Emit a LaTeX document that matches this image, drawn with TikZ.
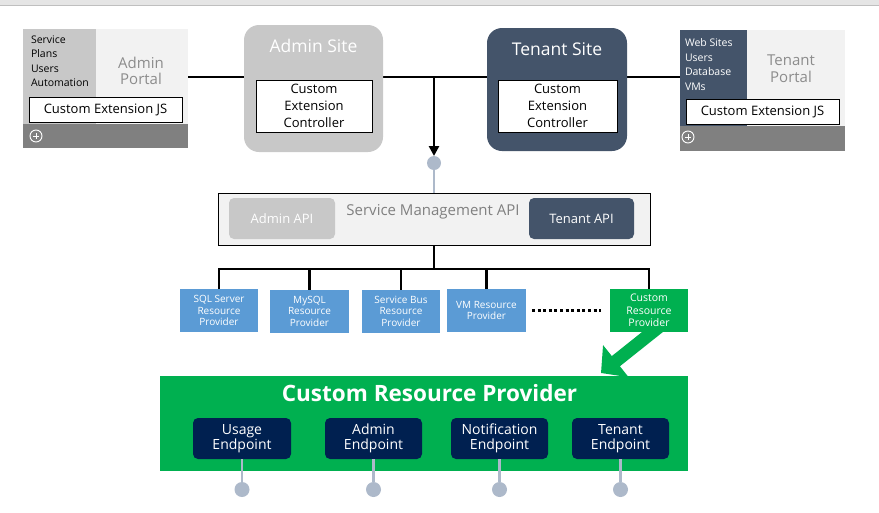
\documentclass[tikz,border=0pt]{standalone}
\usepackage{fontspec}
\setmainfont{Open Sans}
\usetikzlibrary{arrows.meta,positioning}
\definecolor{lightgray}{HTML}{F2F2F2}
\definecolor{midgray}{HTML}{C8C8C8}
\definecolor{bargray}{HTML}{808080}
\definecolor{titlegray}{HTML}{8C8C8C}
\definecolor{slate}{HTML}{44546A}
\definecolor{portgray}{HTML}{ADB9CA}
\definecolor{rpblue}{HTML}{5B9BD5}
\definecolor{rpgreen}{HTML}{00B050}
\definecolor{epnavy}{HTML}{002050}

\begin{document}
\begin{tikzpicture}
  [x=1pt,y=-1pt,
    every node/.style={inner sep=0pt,outer sep=0pt},
    plate/.style={fill=#1,minimum width=165pt},
    jsbox/.style={draw=black,line width=0.8pt,fill=white,minimum width=153pt,minimum height=25pt,font=\fontsize{13}{15}\selectfont},
    menu/.style={anchor=north west,align=left,font=\fontsize{10.5}{14.5}\selectfont},
    portaltitle/.style={align=center,text=titlegray,font=\fontsize{15}{16.5}\selectfont},
    plus/.style={circle,draw=white,line width=0.9pt,minimum size=12pt},
    site/.style={fill=#1,rounded corners=15pt},
    sitetitle/.style={text=white,font=\fontsize{17.5}{19}\selectfont},
    ctrl/.style={draw=black,line width=0.8pt,fill=white,align=center,minimum height=52pt,font=\fontsize{13}{17}\selectfont},
    bus/.style={line width=2.6pt},
    port/.style={circle,fill=portgray,minimum size=14pt},
    api/.style={fill=#1,rounded corners=5pt,minimum height=41pt,text=white,font=\fontsize{13}{15}\selectfont},
    provider/.style={fill=#1,minimum height=43pt,align=center,text=white,font=\fontsize{10}{11.5}\selectfont},
    endpoint/.style={fill=epnavy,rounded corners=5pt,minimum width=97pt,minimum height=41pt,align=center,text=white,font=\fontsize{14}{15.5}\selectfont},
    stem/.style={portgray,line width=2.6pt},
  ]
  \useasboundingbox (0,0) rectangle (879,512);
  \fill[black!10] (0,0) rectangle (879,5);
  \draw[black!25,line width=1.2pt] (0,5.5) -- (879,5.5);

  % admin portal
  \node[plate=lightgray,minimum height=119pt] (adminportal) at (105.5,88.5) {};
  \node[fill=midgray,minimum width=73pt,minimum height=95pt] (admincol) at (59.5,76.5) {};
  \node[plate=bargray,minimum height=24pt] (adminbar) at (105.5,136) {};
  \node[menu] (adminmenu) at (31,35.5) {Service\\Plans\\Users\\Automation};
  \node[portaltitle] (admintitle) at (141,71) {Admin\\Portal};
  \node[jsbox] (adminjs) at (105.5,110) {Custom Extension JS};
  \node[plus] (adminplus) at (36,136) {};
  \draw[white,line width=0.9pt] ([xshift=-3pt]adminplus.center) -- ([xshift=3pt]adminplus.center)
    ([yshift=-3pt]adminplus.center) -- ([yshift=3pt]adminplus.center);

  % tenant portal
  \node[plate=lightgray,minimum height=121pt] (tenantportal) at (762.5,90.5) {};
  \node[fill=slate,minimum width=67pt,minimum height=96pt] (tenantcol) at (713.5,78) {};
  \node[plate=bargray,minimum height=25pt] (tenantbar) at (762.5,138.5) {};
  \node[menu,text=white] (tenantmenu) at (685,39) {Web Sites\\Users\\Database\\VMs};
  \node[portaltitle] (tenanttitle) at (791,68.5) {Tenant\\Portal};
  \node[jsbox] (tenantjs) at (762.5,112) {Custom Extension JS};
  \node[plus] (tenantplus) at (688,137) {};
  \draw[white,line width=0.9pt] ([xshift=-3pt]tenantplus.center) -- ([xshift=3pt]tenantplus.center)
    ([yshift=-3pt]tenantplus.center) -- ([yshift=3pt]tenantplus.center);

  % sites on the bus
  \coordinate (drop) at (434,77);
  \draw[bus] (adminportal.east |- drop) -- (tenantportal.west |- drop);
  \node[site=midgray,minimum width=139pt,minimum height=127pt] (adminsite) at (313.5,88.5) {};
  \node[sitetitle] (adminsitetitle) at (313.5,46) {Admin Site};
  \node[ctrl,minimum width=116pt] (adminctrl) at (314,106) {Custom\\Extension\\Controller};
  \node[site=slate,minimum width=140pt,minimum height=123pt] (tenantsite) at (557,89.5) {};
  \node[sitetitle] (tenantsitetitle) at (557,49) {Tenant Site};
  \node[ctrl,minimum width=119pt] (tenantctrl) at (557.5,106) {Custom\\Extension\\Controller};

  % service management api
  \node[port] (smport) at (434,163) {};
  \draw[line width=2.6pt,-{Triangle[length=10pt,width=10pt]}] (drop) -- (smport.north);
  \node[draw=black,line width=0.8pt,fill=lightgray,minimum width=432pt,minimum height=52pt] (smapi) at (434,219) {};
  \draw[stem] (smport) -- (smapi.north);
  \node[text=bargray,font=\fontsize{15}{17}\selectfont] (smtitle) at (433,212) {Service Management API};
  \node[api=midgray,minimum width=106pt] (adminapi) at (282,218.5) {Admin API};
  \node[api=slate,minimum width=105pt] (tenantapi) at (581.5,218.5) {Tenant API};

  % resource providers
  \coordinate (tree) at (434,269);
  \coordinate (arrowtail) at (660,326);
  \coordinate (arrowtip) at (601,373);
  \node[provider=rpblue,minimum width=78pt] (sqlrp) at (219,310.5) {SQL Server\\Resource\\Provider};
  \node[provider=rpblue,minimum width=79pt] (mysqlrp) at (309.5,311) {MySQL\\Resource\\Provider};
  \node[provider=rpblue,minimum width=78pt] (sbusrp) at (401,311) {Service Bus\\Resource\\Provider};
  \node[provider=rpblue,minimum width=79pt] (vmrp) at (486.5,310.5) {VM Resource\\Provider};
  \draw[line width=13pt,-{Triangle[length=19pt,width=40pt]},rpgreen] (arrowtail) -- (arrowtip);
  \node[provider=rpgreen,minimum width=78pt,font=\fontsize{10.5}{12.5}\selectfont] (customrp) at (649,310.5) {Custom\\Resource\\Provider};
  \draw[bus] (smapi.south) -- (tree);
  \foreach \rp in {sqlrp,mysqlrp,sbusrp,vmrp,customrp}
    \draw[bus] (\rp.north) |- (tree);
  \draw[line width=2.6pt,dash pattern=on 3pt off 2.6pt] ([xshift=6pt]vmrp.east) -- ([xshift=-9pt]customrp.west);

  % custom resource provider
  \node[fill=rpgreen,minimum width=528pt,minimum height=95pt] (crp) at (424,423.5) {};
  \node[text=white,font=\fontsize{22.5}{25}\bfseries] (crptitle) at (429.5,393) {Custom Resource Provider};
  \node[endpoint,minimum width=98pt] (usageep) at (242,438.5) {Usage\\Endpoint};
  \node[endpoint] (adminep) at (373.5,438.5) {Admin\\Endpoint};
  \node[endpoint] (notifyep) at (499.5,438.5) {Notification\\Endpoint};
  \node[endpoint] (tenantep) at (620.5,438.5) {Tenant\\Endpoint};
  \foreach \ep in {usageep,adminep,notifyep,tenantep} {
    \node[port,minimum size=15pt,below=23pt of \ep] (\ep port) {};
    \draw[stem] (\ep.south) -- (\ep port);
  }
\end{tikzpicture}
\end{document}
